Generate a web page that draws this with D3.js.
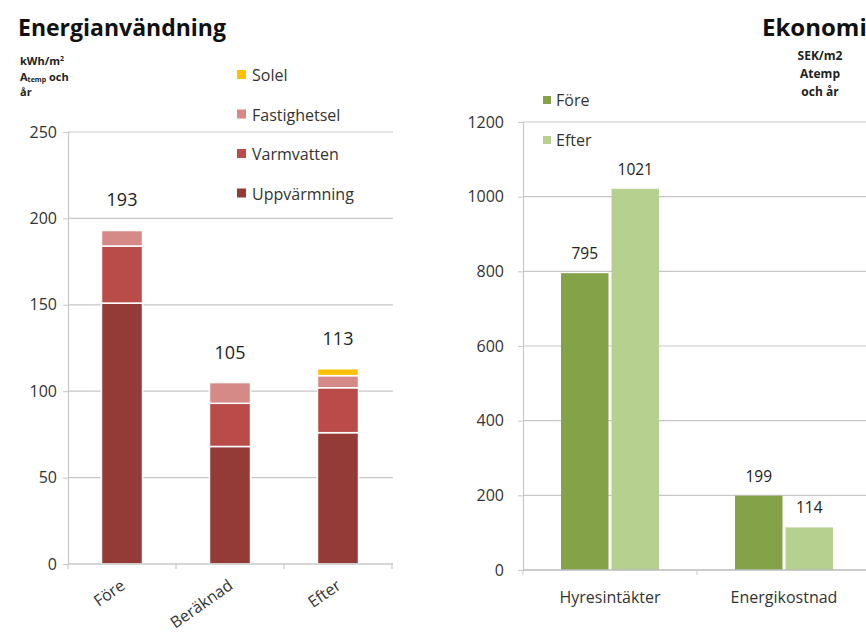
<!DOCTYPE html>
<html><head><meta charset="utf-8">
<script src="https://cdn.jsdelivr.net/npm/d3@7"></script>
<style>body{margin:0;background:#fff;} svg{display:block;font-family:"Open Sans",Lato,sans-serif;}</style>
</head><body>
<svg id="c" width="866" height="633"></svg>
<script>
// ---- Data: Energianvändning ----
const energyCategories = ["Före", "Beräknad", "Efter"];
const energySeries = ["Uppvärmning", "Varmvatten", "Fastighetsel", "Solel"];
const uppvarmning = [151, 68, 76];
const varmvatten = [33, 25, 26];
const fastighetsel = [9, 12, 7];
const solel = [0, 0, 4];
const energyTotals = [193, 105, 113];
const energyTicks = [0, 50, 100, 150, 200, 250];
const energyColors = ["#943a37", "#b94b48", "#d58a88", "#ffc000"];

// ---- Data: Ekonomi ----
const ecoCategories = ["Hyresintäkter", "Energikostnad"];
const ecoSeries = ["Före", "Efter"];
const ecoFore = [795, 199];
const ecoEfter = [1021, 114];
const ecoTicks = [0, 200, 400, 600, 800, 1000, 1200];
const ecoColors = ["#84a247", "#b6d08f"];

const svg = d3.select("#c");
const grid = "#c8c8c8", txt = "#333";

// ===== Left chart =====
{
  const x = d3.scaleBand().domain(energyCategories).range([68, 392]).paddingInner(0.62).paddingOuter(0.31);
  const y = d3.scaleLinear().domain([0, 250]).range([564, 132]);
  const g = svg.append("g");
  g.selectAll("line.grid").data(energyTicks.slice(1)).join("line")
    .attr("x1", 68).attr("x2", 393).attr("y1", d => y(d)).attr("y2", d => y(d))
    .attr("stroke", grid).attr("stroke-width", 1.2);
  const ya = d3.axisLeft(y).tickValues(energyTicks).tickSize(5).tickPadding(6);
  const yg = g.append("g").attr("transform", "translate(68,0)").call(ya);
  yg.select(".domain").attr("stroke", grid).attr("stroke-width", 1.2);
  yg.selectAll(".tick line").attr("stroke", grid);
  yg.selectAll("text").attr("font-size", 16).attr("fill", txt).attr("font-family", "Open Sans");

  const rows = energyCategories.map((c, i) => ({cat: c, Uppvärmning: uppvarmning[i], Varmvatten: varmvatten[i], Fastighetsel: fastighetsel[i], Solel: solel[i]}));
  const stack = d3.stack().keys(energySeries)(rows);
  stack.forEach((s, si) => {
    g.selectAll(null).data(s.filter(d => d[1] - d[0] > 0)).join("rect")
      .attr("x", d => x(d.data.cat)).attr("width", x.bandwidth())
      .attr("y", d => y(d[1])).attr("height", d => y(d[0]) - y(d[1]))
      .attr("fill", energyColors[si]).attr("stroke", "#fff").attr("stroke-width", 1.5);
  });
  // x axis
  const xa = d3.scalePoint().domain([0,1,2,3]).range([68, 392]);
  g.append("line").attr("x1", 68).attr("x2", 393).attr("y1", y(0)).attr("y2", y(0)).attr("stroke", grid).attr("stroke-width", 1.5);
  g.selectAll("line.xt").data([0,1,2,3]).join("line")
    .attr("x1", d => xa(d)).attr("x2", d => xa(d)).attr("y1", y(0)).attr("y2", y(0) + 5).attr("stroke", grid).attr("stroke-width", 1.2);
  g.selectAll("text.xl").data(energyCategories).join("text")
    .attr("transform", d => `translate(${x(d) + x.bandwidth()/2 + 4},${y(0) + 24}) rotate(-35)`)
    .attr("text-anchor", "end").attr("font-size", 16).attr("fill", txt).text(d => d);
  // totals
  g.selectAll("text.tot").data(energyTotals).join("text")
    .attr("x", (d, i) => x(energyCategories[i]) + x.bandwidth()/2)
    .attr("y", (d, i) => y(d3.sum(energySeries.map((k) => rows[i][k]))) - 24)
    .attr("text-anchor", "middle").attr("font-size", 18).attr("fill", "#222").text(d => d);
  // legend
  const legOrder = [3, 2, 1, 0];
  legOrder.forEach((si, k) => {
    const ly = 75 + k * 39.5;
    g.append("rect").attr("x", 237).attr("y", ly - 5).attr("width", 9).attr("height", 9).attr("fill", energyColors[si]);
    g.append("text").attr("x", 252).attr("y", ly + 6).attr("font-size", 16).attr("fill", txt).text(energySeries[si]);
  });
  // title & unit
  g.append("text").attr("x", 18).attr("y", 36).attr("font-size", 23).attr("font-weight", "bold").attr("fill", "#111").text("Energianvändning");
  const u = g.append("g").attr("font-size", 11).attr("font-weight", "bold").attr("fill", "#222");
  const t1 = u.append("text").attr("x", 20).attr("y", 65);
  t1.append("tspan").text("kWh/m");
  t1.append("tspan").attr("font-size", 7).attr("dy", -4).text("2");
  const t2 = u.append("text").attr("x", 20).attr("y", 81);
  t2.append("tspan").text("A");
  t2.append("tspan").attr("font-size", 7).attr("dy", 1).text("temp");
  t2.append("tspan").attr("dy", -1).text(" och");
  u.append("text").attr("x", 20).attr("y", 96).text("år");
}

// ===== Right chart =====
{
  const x0 = d3.scaleBand().domain(ecoCategories).range([523, 871]);
  const x1 = d3.scaleBand().domain(ecoSeries).range([0, 98]).paddingInner(0.06);
  const y = d3.scaleLinear().domain([0, 1200]).range([570, 122]);
  const g = svg.append("g");
  g.selectAll("line.grid").data(ecoTicks.slice(1)).join("line")
    .attr("x1", 523).attr("x2", 871).attr("y1", d => y(d)).attr("y2", d => y(d))
    .attr("stroke", grid).attr("stroke-width", 1.2);
  const ya = d3.axisLeft(y).tickValues(ecoTicks).tickFormat(d3.format("d")).tickSize(5).tickPadding(14);
  const yg = g.append("g").attr("transform", "translate(523,0)").call(ya);
  yg.select(".domain").attr("stroke", grid).attr("stroke-width", 1.2);
  yg.selectAll(".tick line").attr("stroke", grid);
  yg.selectAll("text").attr("font-size", 16).attr("fill", txt).attr("font-family", "Open Sans");

  const vals = [ecoFore, ecoEfter];
  ecoSeries.forEach((s, si) => {
    g.selectAll(null).data(vals[si]).join("rect")
      .attr("x", (d, i) => x0(ecoCategories[i]) + x0.bandwidth()/2 - 49 + x1(s))
      .attr("width", x1.bandwidth())
      .attr("y", d => y(d)).attr("height", d => y(0) - y(d))
      .attr("fill", ecoColors[si]);
    g.selectAll(null).data(vals[si]).join("text")
      .attr("x", (d, i) => x0(ecoCategories[i]) + x0.bandwidth()/2 - 49 + x1(s) + x1.bandwidth()/2)
      .attr("y", d => y(d) - 14)
      .attr("text-anchor", "middle").attr("font-size", 15.5).attr("fill", "#222").text(d => d);
  });
  g.append("line").attr("x1", 523).attr("x2", 871).attr("y1", y(0)).attr("y2", y(0)).attr("stroke", "#bbb").attr("stroke-width", 1.5);
  g.selectAll("line.xt").data([523, 697]).join("line")
    .attr("x1", d => d).attr("x2", d => d).attr("y1", y(0)).attr("y2", y(0) + 5).attr("stroke", grid);
  g.selectAll("text.xl").data(ecoCategories).join("text")
    .attr("x", d => x0(d) + x0.bandwidth()/2).attr("y", 603)
    .attr("text-anchor", "middle").attr("font-size", 16).attr("fill", txt).text(d => d);
  // legend
  ecoSeries.forEach((s, k) => {
    const ly = 100 + k * 40;
    g.append("rect").attr("x", 543).attr("y", ly - 4).attr("width", 8).attr("height", 8).attr("fill", ecoColors[k]);
    g.append("text").attr("x", 556).attr("y", ly + 6).attr("font-size", 16).attr("fill", txt).text(s);
  });
  g.append("text").attr("x", 762).attr("y", 36).attr("font-size", 24).attr("font-weight", "bold").attr("fill", "#111").text("Ekonomi");
  const u = g.append("g").attr("font-size", 12).attr("font-weight", "bold").attr("fill", "#222").attr("text-anchor", "middle");
  u.append("text").attr("x", 820).attr("y", 60).text("SEK/m2");
  u.append("text").attr("x", 820).attr("y", 78).text("Atemp");
  u.append("text").attr("x", 820).attr("y", 96).text("och år");
}
</script>
</body></html>
